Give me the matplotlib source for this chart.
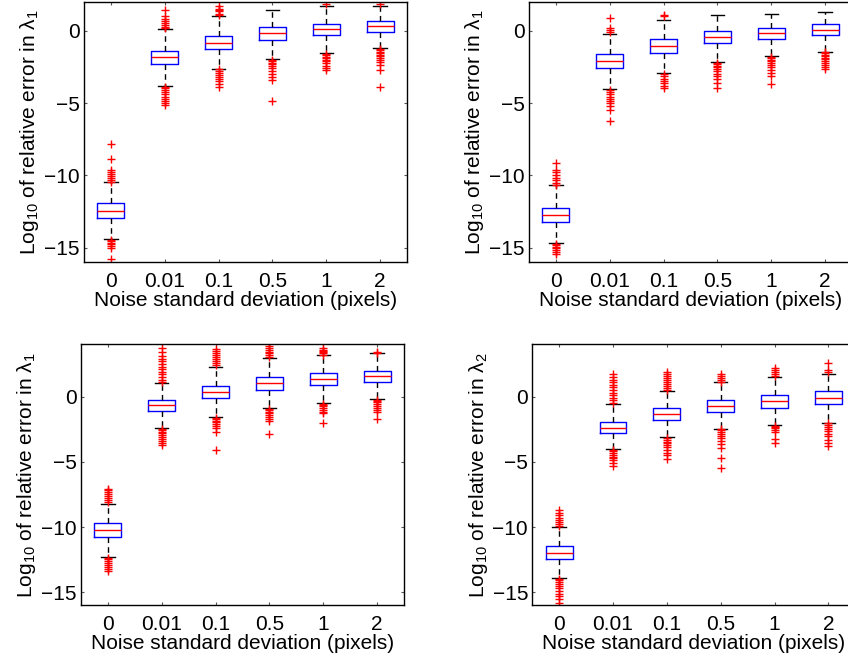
import matplotlib
matplotlib.use("Agg")
import matplotlib.pyplot as plt

plt.rcParams['font.family'] = ['Liberation Sans', 'DejaVu Sans']
plt.rcParams['mathtext.fontset'] = 'custom'
plt.rcParams['mathtext.rm'] = 'Liberation Sans'
plt.rcParams['mathtext.it'] = 'Liberation Sans'

noise_levels = ['0', '0.01', '0.1', '0.5', '1', '2']

# panel A (top left): lambda_1
a_q1 = [-12.93, -2.30, -1.27, -0.64, -0.30, -0.05]
a_med = [-12.45, -1.82, -0.81, -0.16, 0.12, 0.37]
a_q3 = [-11.94, -1.36, -0.35, 0.25, 0.51, 0.71]
a_lo = [-14.42, -3.80, -2.62, -1.96, -1.54, -1.20]
a_hi = [-10.47, 0.12, 1.06, 1.45, 1.75, 1.75]
a_out = [
    [-7.8, -8.9, -9.6, -9.75, -9.9, -10.05, -10.2, -10.35, -10.45,
     -14.45, -14.55, -14.65, -14.75, -14.9, -15.05, -15.8],
    [1.45, 1.0, 0.85, 0.7, 0.55, 0.4, 0.3, 0.2,
     -3.85, -3.95, -4.1, -4.25, -4.4, -4.55, -4.7, -4.85, -5.0, -5.15],
    [1.7, 1.55, 1.45, 1.35, 1.2, 1.1,
     -2.65, -2.75, -2.9, -3.05, -3.2, -3.35, -3.5, -3.7, -3.9],
    [-2.0, -2.1, -2.2, -2.3, -2.45, -2.6, -2.8, -3.0, -3.2, -3.4, -4.85],
    [1.85, -1.6, -1.7, -1.8, -1.9, -2.0, -2.1, -2.25, -2.4, -2.55, -2.7],
    [1.85, -1.25, -1.35, -1.45, -1.55, -1.65, -1.75, -1.85, -2.0, -2.15,
     -2.35, -2.7, -3.9],
]

# panel B (top right): lambda_1
b_q1 = [-13.20, -2.58, -1.54, -0.87, -0.58, -0.30]
b_med = [-12.75, -2.09, -1.06, -0.44, -0.12, 0.09]
b_q3 = [-12.24, -1.61, -0.58, 0.00, 0.23, 0.46]
b_lo = [-14.70, -4.03, -2.92, -2.16, -1.77, -1.43]
b_hi = [-10.70, -0.23, 0.76, 1.10, 1.17, 1.31]
b_out = [
    [-9.15, -9.6, -9.8, -10.0, -10.2, -10.35, -10.5, -10.65,
     -14.75, -14.85, -14.95, -15.05, -15.15, -15.3, -15.45],
    [0.9, 0.2, 0.05, -0.1,
     -4.1, -4.25, -4.4, -4.55, -4.7, -4.85, -5.0, -5.2, -5.45, -6.25],
    [1.1, 1.0, -3.0, -3.15, -3.3, -3.45, -3.6, -3.8, -3.95],
    [-2.2, -2.3, -2.4, -2.5, -2.65, -2.8, -2.95, -3.1, -3.3, -3.6, -3.95],
    [-1.8, -1.9, -2.0, -2.1, -2.2, -2.35, -2.5, -2.7, -2.9, -3.15, -3.65],
    [-1.45, -1.55, -1.65, -1.75, -1.85, -1.95, -2.05, -2.2, -2.35, -2.5, -2.65],
]

# panel C (bottom left): lambda_1
c_q1 = [-10.75, -1.12, -0.13, 0.51, 0.87, 1.12]
c_med = [-10.26, -0.66, 0.36, 1.02, 1.32, 1.58]
c_q3 = [-9.73, -0.25, 0.84, 1.48, 1.78, 1.99]
c_lo = [-12.27, -2.42, -1.58, -0.89, -0.51, -0.18]
c_hi = [-8.20, 1.04, 2.29, 2.93, 3.18, 3.31]
c_out = [
    [-7.05, -7.2, -7.35, -7.5, -7.65, -7.8, -7.95, -8.1,
     -12.35, -12.45, -12.6, -12.75, -12.9, -13.05, -13.2, -13.35],
    [3.75, 3.4, 3.1, 2.9, 2.7, 2.5, 2.3, 2.1, 1.9, 1.7, 1.5, 1.3, 1.15,
     -2.5, -2.6, -2.7, -2.8, -2.95, -3.1, -3.25, -3.4, -3.55, -3.7],
    [3.65, 3.5, 3.35, 3.2, 3.05, 2.9, 2.75, 2.6, 2.45,
     -1.65, -1.75, -1.85, -1.95, -2.1, -2.25, -2.45, -2.7, -4.1],
    [3.9, 3.75, 3.6, 3.45, 3.3, 3.15, 3.0,
     -0.95, -1.05, -1.15, -1.25, -1.4, -1.55, -1.7, -1.9, -2.85],
    [3.75, 3.6, 3.5, 3.4, 3.3, 3.2,
     -0.55, -0.65, -0.75, -0.85, -1.0, -1.15, -1.3, -2.05],
    [3.45, 3.35, -0.25, -0.35, -0.45, -0.55, -0.7, -0.85, -1.0, -1.2, -1.7],
]

# panel D (bottom right): lambda_2
d_q1 = [-12.48, -2.80, -1.83, -1.17, -0.87, -0.56]
d_med = [-11.97, -2.39, -1.35, -0.71, -0.38, -0.13]
d_q3 = [-11.46, -1.96, -0.89, -0.25, 0.13, 0.41]
d_lo = [-13.93, -4.05, -3.11, -2.47, -2.22, -2.01]
d_hi = [-9.98, -0.61, 0.46, 1.10, 1.48, 1.73]
d_out = [
    [-8.7, -8.9, -9.1, -9.3, -9.5, -9.65, -9.8, -9.95,
     -14.0, -14.1, -14.25, -14.4, -14.55, -14.7, -14.9, -15.1, -15.3,
     -15.55, -15.85],
    [1.7, 1.5, 1.3, 1.1, 0.9, 0.7, 0.5, 0.3, 0.1, -0.1, -0.3, -0.5,
     -4.1, -4.2, -4.3, -4.45, -4.6, -4.75, -4.9, -5.1, -5.3],
    [1.85, 1.7, 1.55, 1.4, 1.25, 1.1, 0.95, 0.8, 0.65, 0.5,
     -3.15, -3.3, -3.45, -3.6, -3.75, -3.9, -4.1, -4.3, -4.5, -4.8],
    [1.7, 1.55, 1.4, 1.25, 1.15,
     -2.5, -2.6, -2.7, -2.85, -3.0, -3.2, -3.4, -3.65, -3.95, -4.7, -5.45],
    [2.15, 2.0, 1.85, 1.7, 1.55, -2.25, -2.35, -2.45, -2.55, -2.7, -3.25, -3.6],
    [2.6, 2.0, 1.9, -2.05, -2.2, -2.35, -2.5, -2.65, -2.85, -3.05, -3.3,
     -3.55, -3.8],
]


def draw_panel(ax, q1, med, q3, lo, hi, out, ylim, ylabel):
    stats = []
    for i in range(len(noise_levels)):
        stats.append(dict(q1=q1[i], med=med[i], q3=q3[i],
                          whislo=lo[i], whishi=hi[i], fliers=out[i]))
    ax.bxp(stats, positions=range(1, 7), widths=0.5, capwidths=0.25,
           boxprops=dict(color='blue', lw=1),
           medianprops=dict(color='red', lw=1),
           whiskerprops=dict(color='black', ls=(0, (4, 3)), lw=1),
           capprops=dict(color='black', lw=1),
           flierprops=dict(marker='+', markeredgecolor='red',
                           markersize=5.5, markeredgewidth=1, ls='none'))
    ax.set_xlim(0.5, 6.5)
    ax.set_ylim(*ylim)
    ax.set_xticks(range(1, 7))
    ax.set_xticklabels(noise_levels)
    ax.set_yticks([-15, -10, -5, 0])
    ax.tick_params(direction='in', top=True, right=True, length=2.5,
                   color='#555555', labelsize=15, pad=7)
    ax.tick_params(axis='y', pad=3)
    ax.set_xlabel('Noise standard deviation (pixels)', fontsize=15, labelpad=0)
    ax.set_ylabel(ylabel, fontsize=15, labelpad=2)
    for s in ax.spines.values():
        s.set_linewidth(1)


fig = plt.figure(figsize=(8.48, 6.59), dpi=100)
ax_a = fig.add_axes([0.0991, 0.6024, 0.3809, 0.3945])
ax_b = fig.add_axes([0.6238, 0.6024, 0.3809, 0.3945])
ax_c = fig.add_axes([0.0955, 0.0815, 0.3809, 0.396])
ax_d = fig.add_axes([0.6277, 0.0815, 0.3809, 0.396])

lab1 = 'Log$_{10}$ of relative error in λ$_1$'
lab2 = 'Log$_{10}$ of relative error in λ$_2$'
draw_panel(ax_a, a_q1, a_med, a_q3, a_lo, a_hi, a_out, (-16, 2), lab1)
draw_panel(ax_b, b_q1, b_med, b_q3, b_lo, b_hi, b_out, (-16, 2), lab1)
draw_panel(ax_c, c_q1, c_med, c_q3, c_lo, c_hi, c_out, (-16, 4), lab1)
draw_panel(ax_d, d_q1, d_med, d_q3, d_lo, d_hi, d_out, (-16, 4), lab2)

fig.savefig('out.png', dpi=100)
